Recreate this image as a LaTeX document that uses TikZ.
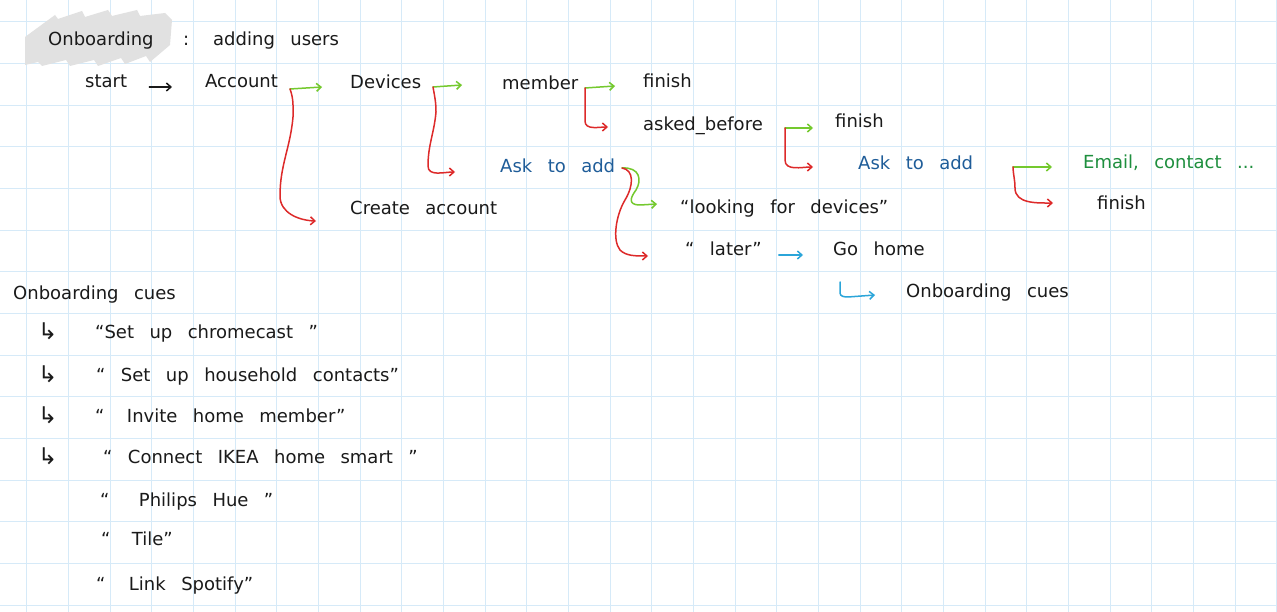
\documentclass[tikz,border=0pt]{standalone}
\usepackage{fontspec}
\setmainfont{DejaVu Sans}[WordSpace=2.7]
\usetikzlibrary{arrows.meta}
\definecolor{ink}{HTML}{1A1A1A}
\definecolor{redl}{HTML}{DD2A2A}
\definecolor{limel}{HTML}{74C92E}
\definecolor{bluet}{HTML}{1F5D99}
\definecolor{greent}{HTML}{1E8F3E}
\definecolor{cyanl}{HTML}{2BA5D9}
\definecolor{gridc}{HTML}{D6EAF8}
\definecolor{hilite}{HTML}{E1E1E1}
\begin{document}
\begin{tikzpicture}[x=1pt,y=-1pt,
  txt/.style={font=\fontsize{18}{22}\selectfont, inner sep=0pt, anchor=base west, text=ink},
  hook/.style={font=\fontsize{23}{26}\selectfont, inner sep=0pt, anchor=base west, text=ink},
  conn/.style={line width=1.5pt, line cap=round, line join=round, -{Straight Barb[length=4.5pt,width=8pt]}},
  gridline/.style={draw=gridc, line width=0.9pt}]
\useasboundingbox (0,0) rectangle (1277,612);
\fill[white] (0,0) rectangle (1277,612);
\foreach \i in {0,...,30} \draw[gridline] ({26.7+41.667*\i},0) -- ++(0,612);
\foreach \j in {0,...,14} \draw[gridline] (0,{21.7+41.667*\j}) -- ++(1277,0);
% highlighter
\fill[hilite] (25,37) -- (55,15) -- (58,19) -- (82,11) -- (85,17) -- (108,10) -- (112,16) -- (137,10) -- (140,16) -- (165,13) -- (172,20)
  -- (170,45) -- (150,62) -- (146,56) -- (125,64) -- (121,58) -- (98,66) -- (94,60) -- (70,66) -- (66,60) -- (42,66) -- (38,62) -- (25,65) -- cycle;
% title
\node[txt] (title) at (48,46) {Onboarding};
\node[txt] (colon) at (183,46) {:};
\node[txt] (adding) at (213,46) {adding users};
% flow
\node[txt] (start) at (85,88) {start};
\node[txt] (account) at (205,88) {Account};
\node[txt] (devices) at (350,89) {Devices};
\node[txt] (member) at (502,90) {member};
\node[txt] (fin1) at (643,88) {finish};
\node[txt] (asked) at (643,131) {asked\_before};
\node[txt] (fin2) at (835,128) {finish};
\node[txt,text=bluet] (ask1) at (500,173) {Ask to add};
\node[txt,text=bluet] (ask2) at (858,170) {Ask to add};
\node[txt,text=greent] (email) at (1083,169) {Email, contact ...};
\node[txt] (fin3) at (1097,210) {finish};
\node[txt] (create) at (350,215) {Create account};
\node[txt] (looking) at (680,214) {“looking for devices”};
\node[txt] (later) at (685,256) {“ later”};
\node[txt] (gohome) at (833,256) {Go home};
\node[txt] (cues2) at (906,298) {Onboarding cues};
% list
\node[txt] (cues1) at (13,300) {Onboarding cues};
\node[hook] (h1) at (38,339) {↳};
\node[hook] (h2) at (38,382) {↳};
\node[hook] (h3) at (38,423) {↳};
\node[hook] (h4) at (38,464) {↳};
\node[txt] (i1) at (95,338) {“Set up chromecast ”};
\node[txt] (i2) at (96,381) {“ Set up household contacts”};
\node[txt] (i3) at (95,422) {“\hspace{7pt} Invite home member”};
\node[txt] (i4) at (103,463) {“ Connect IKEA home smart ”};
\node[txt] (i5) at (100,506) {“\hspace{14pt} Philips Hue ”};
\node[txt] (i6) at (101,545) {“\hspace{6pt} Tile”};
\node[txt] (i7) at (96,590) {“\hspace{8pt} Link Spotify”};
% connectors
\draw[conn,ink] ([xshift=22pt,yshift=1pt]start.base east) -- ([xshift=-33pt,yshift=1pt]account.base west);
\coordinate (b1) at (290,89);
\draw[conn,limel] (b1) -- ([xshift=-28pt,yshift=2pt]devices.base west);
\draw[conn,redl] (b1) to[out=-70,in=90] (293,117) to[out=-95,in=90] (280,196) to[out=-90,in=178] ([xshift=-34pt,yshift=-6pt]create.base west);
\coordinate (b2) at (433,87);
\draw[conn,limel] (b2) -- ([xshift=-40pt,yshift=5pt]member.base west);
\draw[conn,redl] (b2) to[out=-80,in=90] (436,112) to[out=-95,in=90] (428,166) to[out=-90,in=180] ([xshift=-45pt,yshift=1pt]ask1.base west);
\coordinate (b3) at (585,88);
\draw[conn,limel] (b3) -- ([xshift=-28pt,yshift=2pt]fin1.base west);
\draw[conn,redl] (b3) -- (585,121) to[out=-90,in=180] ([xshift=-35pt,yshift=4pt]asked.base west);
\coordinate (b4) at (785,128);
\draw[conn,limel] (b4) -- ([xshift=-22pt]fin2.base west);
\draw[conn,redl] (b4) -- (785,160) to[out=-90,in=180] ([xshift=-45pt,yshift=3pt]ask2.base west);
\coordinate (b5) at (1013,167);
\draw[conn,limel] (b5) -- ([xshift=-31pt,yshift=2pt]email.base west);
\draw[conn,redl] (b5) to[out=-88,in=90] (1015,188) to[out=-90,in=180] ([xshift=-44pt,yshift=7pt]fin3.base west);
\coordinate (b6) at (622,168);
\draw[conn,limel] (b6) .. controls (640,167) and (642,180) .. (636,190) .. controls (630,198) and (628,205) .. (640,205) -- ([xshift=-23pt,yshift=10pt]looking.base west);
\draw[conn,redl] (b6) .. controls (634,170) and (634,185) .. (625,200) .. controls (616,215) and (612,240) .. (620,250) .. controls (626,256) and (635,256) .. ([xshift=-37pt]later.base west);
\draw[conn,cyanl] ([xshift=17pt,yshift=1pt]later.base east) -- ([xshift=-30pt,yshift=1pt]gohome.base west);
\draw[conn,cyanl] ([xshift=7pt,yshift=-26pt]gohome.base west) -- ++(0,11) to[out=-90,in=180] ++(8,4) -- ([xshift=-31pt,yshift=3pt]cues2.base west);
\end{tikzpicture}
\end{document}
